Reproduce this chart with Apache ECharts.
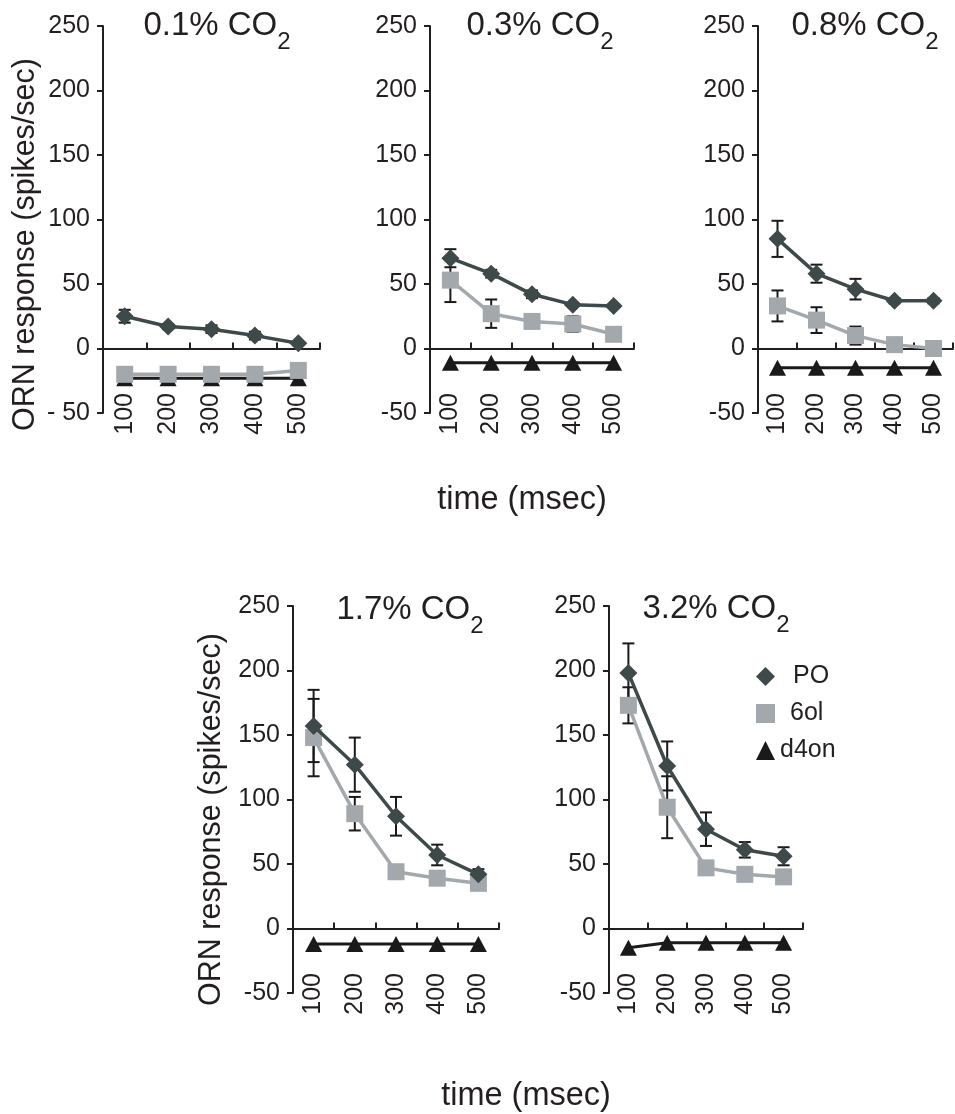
<!DOCTYPE html>
<html>
<head>
<meta charset="utf-8">
<script src="https://cdn.jsdelivr.net/npm/echarts@6/dist/echarts.min.js"></script>
<style>
  html, body { margin: 0; padding: 0; background: #fff; }
  #chart { width: 955px; height: 1114px; }
</style>
</head>
<body>
<div id="chart"></div>
<script>
// time points (msec)
const times = ['100', '200', '300', '400', '500'];
const panelTitles = ['0.1% CO', '0.3% CO', '0.8% CO', '1.7% CO', '3.2% CO'];

// 0.1% CO2
const po01 = [25, 17, 15, 10, 4];
const po01Err = [5, 2, 3, 3, 1];
const ol01 = [-20, -20, -20, -20, -17];
const ol01Err = [0, 0, 0, 0, 0];
const d4on01 = [-23, -23, -23, -23, -23];
// 0.3% CO2
const po03 = [70, 58, 42, 34, 33];
const po03Err = [7, 3, 3, 1, 1];
const ol03 = [53, 27, 21, 19, 11];
const ol03Err = [17, 11, 2, 6, 1];
const d4on03 = [-11, -11, -11, -11, -11];
// 0.8% CO2
const po08 = [85, 58, 46, 37, 37];
const po08Err = [14, 7, 8, 2, 2];
const ol08 = [33, 22, 10, 3, 0];
const ol08Err = [12, 10, 7, 1, 0];
const d4on08 = [-15, -15, -15, -15, -15];
// 1.7% CO2
const po17 = [157, 127, 87, 57, 42];
const po17Err = [28, 21, 15, 8, 4];
const ol17 = [148, 89, 44, 39, 35];
const ol17Err = [30, 13, 4, 5, 3];
const d4on17 = [-12, -12, -12, -12, -12];
// 3.2% CO2
const po32 = [198, 126, 77, 61, 56];
const po32Err = [23, 19, 13, 6, 7];
const ol32 = [173, 94, 47, 42, 40];
const ol32Err = [14, 24, 4, 2, 2];
const d4on32 = [-15, -11, -11, -11, -11];

const panels = [
  { po: po01, poErr: po01Err, ol: ol01, olErr: ol01Err, d4: d4on01 },
  { po: po03, poErr: po03Err, ol: ol03, olErr: ol03Err, d4: d4on03 },
  { po: po08, poErr: po08Err, ol: ol08, olErr: ol08Err, d4: d4on08 },
  { po: po17, poErr: po17Err, ol: ol17, olErr: ol17Err, d4: d4on17 },
  { po: po32, poErr: po32Err, ol: ol32, olErr: ol32Err, d4: d4on32 }
];

// grid boxes [left, top, width], title anchors [centerX, top]
const boxes = [
  [103, 26, 217],
  [430, 26, 204],
  [758, 26, 195],
  [293, 606, 206],
  [609, 606, 194]
];
const titlePos = [[212, 4], [535, 4], [860, 4], [405, 588], [711, 587]];
const gridH = 387;

const FONT = "'Liberation Sans', Arial, sans-serif";
const INK = '#231f20';
const PO_C = '#3e4949';
const OL_C = '#a3a8ad';
const D4_C = '#1a1a1a';

function errData(vals, errs) {
  const out = [];
  vals.forEach((v, i) => {
    if (errs[i] > 0) out.push([i, v - errs[i], v + errs[i]]);
  });
  return out;
}

function renderErr(params, api) {
  const x = api.value(0);
  const hi = api.coord([x, api.value(2)]);
  const lo = api.coord([x, api.value(1)]);
  const w = 6;
  const st = { stroke: '#1a1a1a', lineWidth: 2 };
  return {
    type: 'group',
    children: [
      { type: 'line', shape: { x1: hi[0], y1: hi[1], x2: lo[0], y2: lo[1] }, style: st },
      { type: 'line', shape: { x1: hi[0] - w, y1: hi[1], x2: hi[0] + w, y2: hi[1] }, style: st },
      { type: 'line', shape: { x1: lo[0] - w, y1: lo[1], x2: lo[0] + w, y2: lo[1] }, style: st }
    ]
  };
}

const grid = [], xAxis = [], yAxis = [], series = [], title = [];

boxes.forEach((b, k) => {
  grid.push({ left: b[0], top: b[1], width: b[2], height: gridH, outerBoundsMode: 'none' });

  // labels axis at bottom
  xAxis.push({
    type: 'category', gridIndex: k, data: times, position: 'bottom', offset: -20,
    axisLine: { show: false, onZero: false }, axisTick: { show: false },
    axisLabel: { rotate: 90, margin: 0, fontSize: 25, color: INK, fontFamily: FONT }
  });
  // zero line with ticks
  xAxis.push({
    type: 'category', gridIndex: k, data: times,
    axisLine: { show: true, onZero: true, lineStyle: { color: INK, width: 2 } },
    axisTick: { show: true, length: 6, lineStyle: { color: INK, width: 2 } },
    axisLabel: { show: false }
  });

  yAxis.push({
    type: 'value', gridIndex: k, min: -50, max: 250, interval: 50,
    splitLine: { show: false },
    axisLine: { show: true, lineStyle: { color: INK, width: 2 } },
    axisTick: { show: true, length: 6, lineStyle: { color: INK, width: 2 } },
    axisLabel: {
      fontSize: 25, color: INK, fontFamily: FONT, margin: 13,
      formatter: v => (k === 0 && v === -50 ? '- 50' : String(v))
    },
    name: (k === 0 || k === 3) ? 'ORN response (spikes/sec)' : '',
    nameLocation: 'middle', nameGap: k === 0 ? 62 : 66,
    nameTextStyle: {
      fontSize: 30.5, color: INK, fontFamily: FONT,
      padding: [0, k === 0 ? 50 : 40, 0, 0]
    }
  });

  const p = panels[k];
  const xi = 2 * k;
  series.push({
    type: 'custom', xAxisIndex: xi, yAxisIndex: k, z: 1, silent: true,
    renderItem: renderErr, data: errData(p.po, p.poErr).concat(errData(p.ol, p.olErr))
  });
  series.push({
    name: 'd4on', type: 'line', xAxisIndex: xi, yAxisIndex: k, z: 3, data: p.d4,
    symbol: 'triangle', symbolSize: [17, 16], showSymbol: true,
    itemStyle: { color: D4_C }, lineStyle: { color: D4_C, width: 3 }
  });
  series.push({
    name: '6ol', type: 'line', xAxisIndex: xi, yAxisIndex: k, z: 4, data: p.ol,
    symbol: 'rect', symbolSize: 17,
    itemStyle: { color: OL_C }, lineStyle: { color: OL_C, width: 3.5 }
  });
  series.push({
    name: 'PO', type: 'line', xAxisIndex: xi, yAxisIndex: k, z: 5, data: p.po,
    symbol: 'diamond', symbolSize: 18,
    itemStyle: { color: PO_C }, lineStyle: { color: PO_C, width: 3.5 }
  });

  title.push({
    text: '{a|' + panelTitles[k] + '}{b|2}',
    left: titlePos[k][0], top: titlePos[k][1], textAlign: 'center',
    textStyle: {
      fontWeight: 'normal',
      rich: {
        a: { fontSize: 33, lineHeight: 33, verticalAlign: 'top', fontWeight: 'normal', color: INK, fontFamily: FONT },
        b: { fontSize: 24, lineHeight: 67, fontWeight: 'normal', color: INK, fontFamily: FONT }
      }
    }
  });
});

title.push({ text: 'time (msec)', left: 517, top: 479, textAlign: 'center',
  textStyle: { fontSize: 32.5, fontWeight: 'normal', color: INK, fontFamily: FONT } });
title.push({ text: 'time (msec)', left: 521, top: 1075, textAlign: 'center',
  textStyle: { fontSize: 32.5, fontWeight: 'normal', color: INK, fontFamily: FONT } });

const chart = echarts.init(document.getElementById('chart'), null, { renderer: 'canvas' });
chart.setOption({
  animation: false,
  backgroundColor: '#fff',
  title: title,
  legend: {
    orient: 'vertical', left: 751, top: 659,
    itemWidth: 19, itemHeight: 19, itemGap: 12,
    textStyle: { fontSize: 25, color: INK, fontFamily: FONT, lineHeight: 25 },
    data: [
      { name: 'PO', icon: 'diamond', textStyle: { padding: [0, 0, 0, 13] } },
      { name: '6ol', icon: 'rect', textStyle: { padding: [0, 0, 0, 10] } },
      { name: 'd4on', icon: 'triangle' }
    ]
  },
  grid: grid,
  xAxis: xAxis,
  yAxis: yAxis,
  series: series
});
</script>
</body>
</html>
